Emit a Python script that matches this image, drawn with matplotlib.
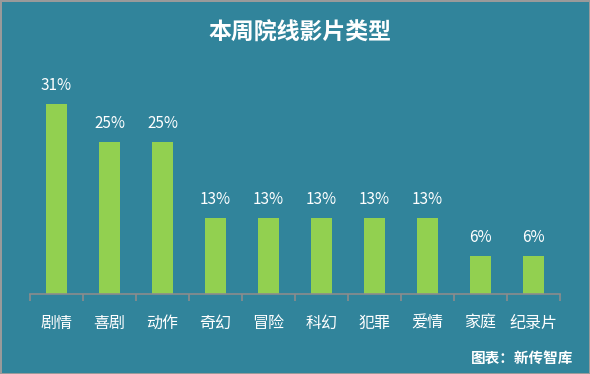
import matplotlib
matplotlib.use("Agg")
import matplotlib.pyplot as plt
import numpy as np

plt.rcParams["font.family"] = ["Noto Sans CJK SC", "DejaVu Sans"]

BG = "#31849B"
BAR = "#92D050"
AXIS = "#8C8C8C"

genres = ["剧情", "喜剧", "动作", "奇幻", "冒险", "科幻", "犯罪", "爱情", "家庭", "纪录片"]
share = [31.25, 25, 25, 12.5, 12.5, 12.5, 12.5, 12.5, 6.25, 6.25]

fig = plt.figure(figsize=(5.9, 3.74), dpi=100, facecolor=BG,
                 edgecolor="#9A9A9A", linewidth=2)
ax = fig.add_axes([30 / 590, 80 / 374, 530 / 590, 213 / 374])
ax.set_facecolor(BG)

x = np.arange(len(genres))
ax.bar(x, share, width=0.4, color=BAR, zorder=2)
for xi, v in zip(x, share):
    ax.annotate(f"{int(v + 0.5)}%", (xi, v), xytext=(0, 7),
                textcoords="offset points", ha="center", va="bottom",
                color="white", fontsize=11)

ax.set_xlim(-0.5, len(genres) - 0.5)
ax.set_ylim(0, 35)
ax.set_yticks([])
for s in ["top", "right", "left"]:
    ax.spines[s].set_visible(False)
ax.spines["bottom"].set_color(AXIS)
ax.spines["bottom"].set_linewidth(1.2)

ax.set_xticks(x)
ax.set_xticklabels(genres, color="white", fontsize=11.5)
ax.tick_params(axis="x", which="major", length=0, pad=15)
ax.set_xticks(np.arange(-0.5, len(genres)), minor=True)
ax.tick_params(axis="x", which="minor", length=5, color=AXIS, width=1.2)

fig.text(300 / 590, 1 - 33 / 374, "本周院线影片类型", ha="center", va="center",
         color="white", fontsize=16.5, fontweight="bold")
fig.text(573 / 590, 1 - 358 / 374, "图表：新传智库", ha="right", va="center",
         color="white", fontsize=10.5, fontweight="bold")

fig.savefig("out.png", dpi=100, facecolor=BG, edgecolor="#9A9A9A")
